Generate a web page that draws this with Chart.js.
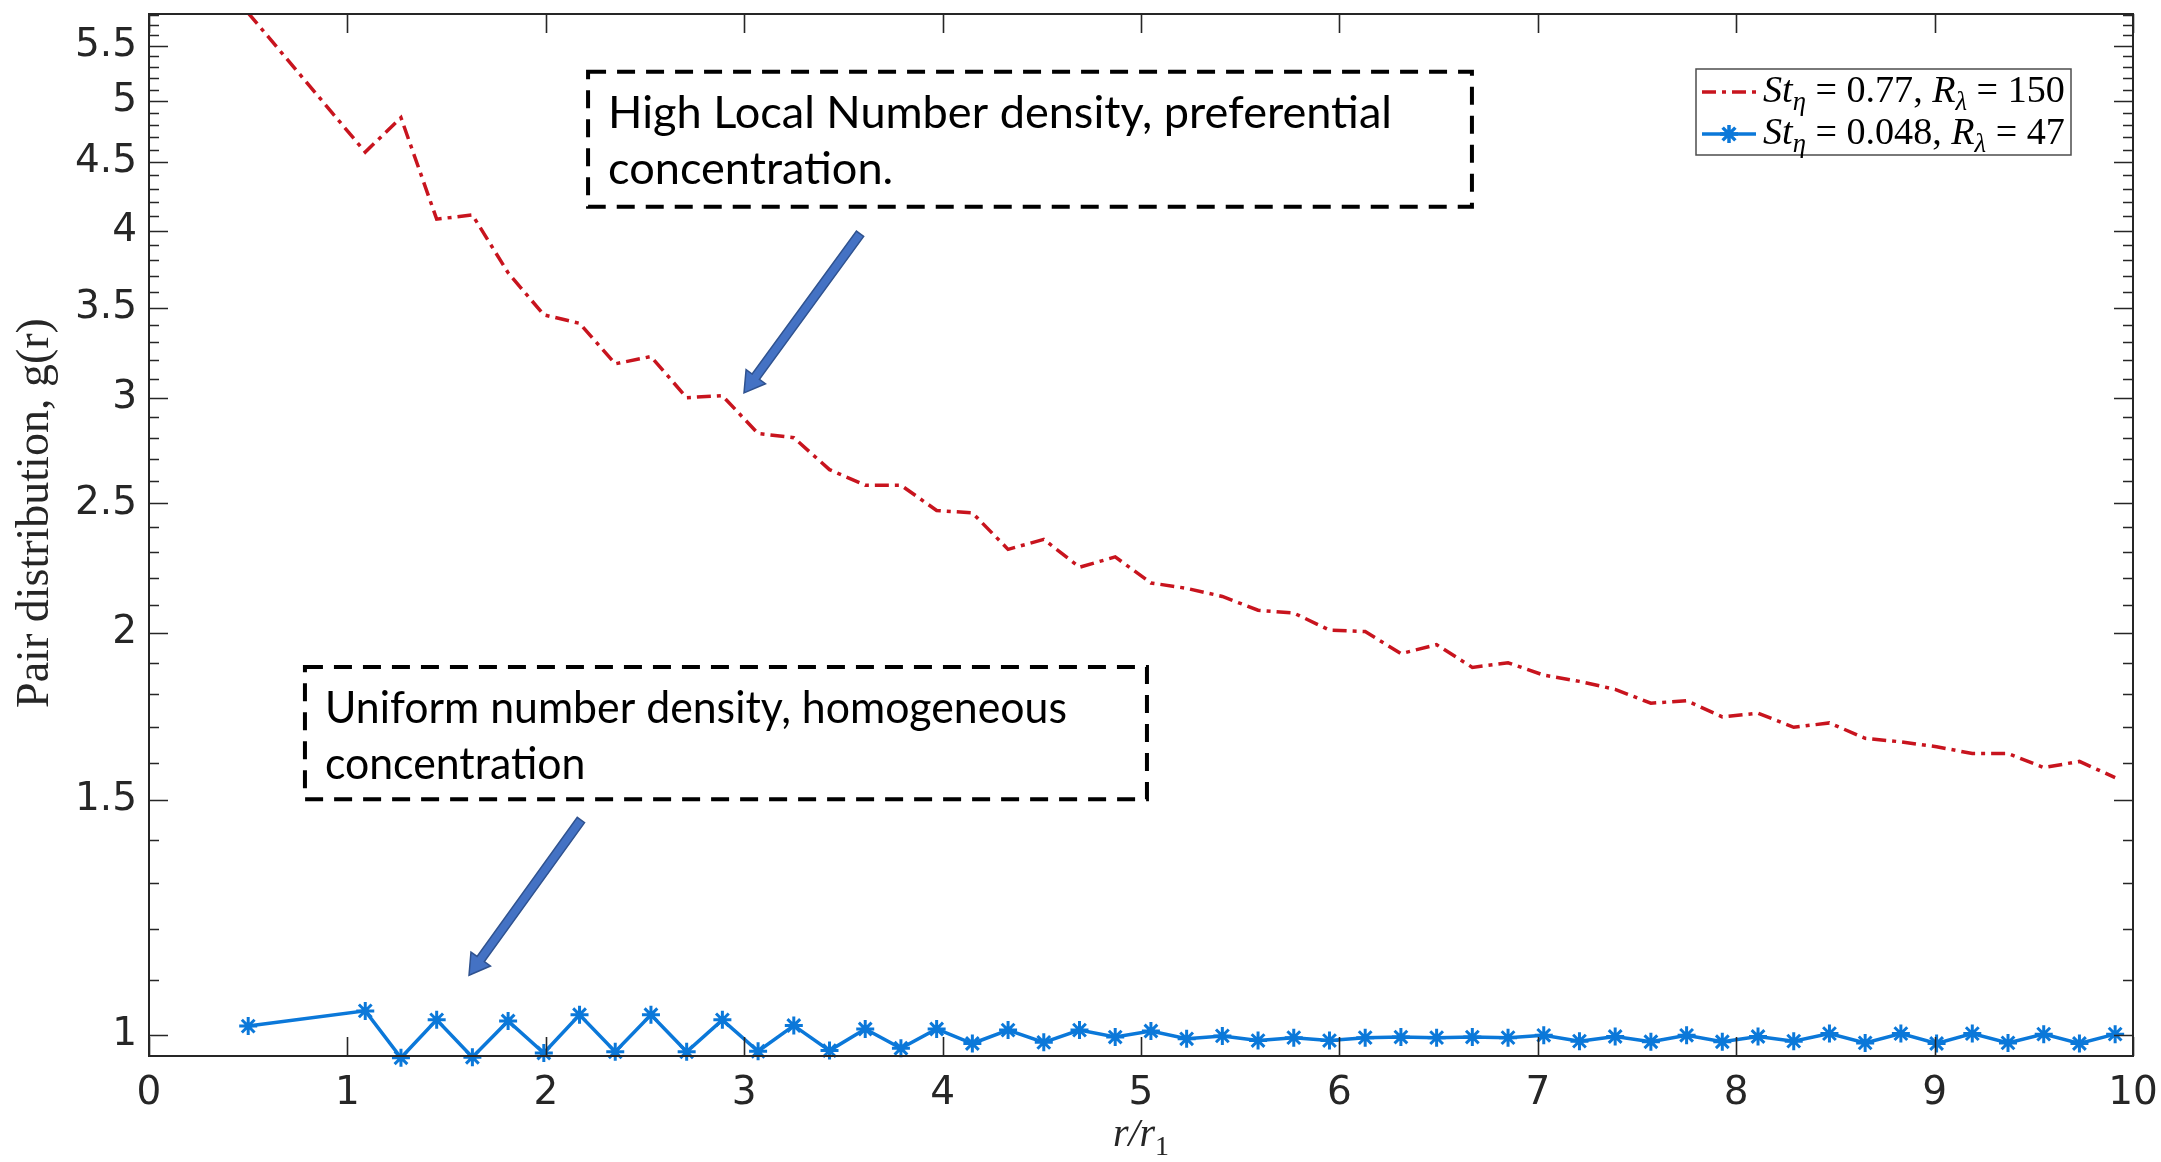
<!DOCTYPE html>
<html>
<head>
<meta charset="utf-8">
<script src="https://cdn.jsdelivr.net/npm/chart.js@4.4.1/dist/chart.umd.min.js"></script>
<style>
  html, body { margin: 0; padding: 0; background: #fff; }
  #caja { width: 2161px; height: 1162px; }
</style>
</head>
<body>
<div id="caja"><canvas id="grafica" width="2161" height="1162"></canvas></div>
<script>
// posiciones r/r1 (la primera va suelta, el resto cada 0.18)
const radios = [0.5, 1.09, 1.27, 1.45, 1.63, 1.81, 1.99, 2.17, 2.35, 2.53, 2.71,
  2.89, 3.07, 3.25, 3.43, 3.61, 3.79, 3.97, 4.15, 4.33, 4.51,
  4.69, 4.87, 5.05, 5.23, 5.41, 5.59, 5.77, 5.95, 6.13, 6.31,
  6.49, 6.67, 6.85, 7.03, 7.21, 7.39, 7.57, 7.75, 7.93, 8.11,
  8.29, 8.47, 8.65, 8.83, 9.01, 9.19, 9.37, 9.55, 9.73, 9.91];

// g(r) para St=0.77, R_lambda=150
const gAlto = [5.82, 4.58, 4.86, 4.08, 4.11, 3.72, 3.46, 3.41, 3.18, 3.22, 3.00,
  3.01, 2.82, 2.80, 2.65, 2.58, 2.58, 2.47, 2.46, 2.31, 2.35,
  2.24, 2.28, 2.18, 2.16, 2.13, 2.08, 2.07, 2.01, 2.005, 1.93,
  1.96, 1.885, 1.90, 1.86, 1.84, 1.815, 1.772, 1.78, 1.731, 1.742,
  1.70, 1.713, 1.668, 1.658, 1.644, 1.625, 1.625, 1.586, 1.603, 1.559];

// g(r) para St=0.048, R_lambda=47
const gBajo = [1.016, 1.043, 0.962, 1.027, 0.963, 1.025, 0.970, 1.036, 0.972, 1.036, 0.972,
  1.027, 0.973, 1.017, 0.974, 1.011, 0.978, 1.011, 0.986, 1.009, 0.988,
  1.009, 0.997, 1.0075, 0.994, 0.999, 0.991, 0.996, 0.991, 0.996, 0.997,
  0.996, 0.997, 0.996, 1.000, 0.990, 0.998, 0.989, 1.000, 0.989, 0.998,
  0.990, 1.003, 0.987, 1.003, 0.986, 1.003, 0.987, 1.002, 0.986, 1.002];

// etiquetas de los ejes
const ticksX = [0, 1, 2, 3, 4, 5, 6, 7, 8, 9, 10];
const ticksY = [1, 1.5, 2, 2.5, 3, 3.5, 4, 4.5, 5, 5.5];

// parametros de cada serie para la leyenda
const stokes = ['0.77', '0.048'];
const reynolds = ['150', '47'];

const ROJO = '#c8141e';
const AZUL = '#0b78d9';
const GRIS = '#262626';

Chart.defaults.font.family = 'DejaVu Sans';
Chart.defaults.font.size = 39;
Chart.defaults.color = GRIS;

// texto con cursivas y subindices (estilo LaTeX)
function medirRico(ctx, partes, size, fam) {
  let w = 0;
  for (const p of partes) {
    ctx.font = (p.it ? 'italic ' : '') + (p.sub ? size * 0.7 : size) + 'px ' + fam;
    w += ctx.measureText(p.t).width;
  }
  return w;
}
function pintarRico(ctx, partes, x, y, size, fam) {
  let cx = x;
  for (const p of partes) {
    ctx.font = (p.it ? 'italic ' : '') + (p.sub ? size * 0.7 : size) + 'px ' + fam;
    ctx.fillText(p.t, cx, y + (p.sub ? size * 0.22 : 0));
    cx += ctx.measureText(p.t).width;
  }
}
function tamanoPara(ctx, texto, fam, ancho) {
  ctx.font = '100px ' + fam;
  return 100 * ancho / ctx.measureText(texto).width;
}

function flecha(ctx, x0, y0, x1, y1) {
  const ang = Math.atan2(y1 - y0, x1 - x0);
  const largo = Math.hypot(x1 - x0, y1 - y0);
  const cuerpo = 4.5, cabeza = 12, lc = 20;
  ctx.save();
  ctx.translate(x0, y0);
  ctx.rotate(ang);
  ctx.beginPath();
  ctx.moveTo(0, -cuerpo);
  ctx.lineTo(largo - lc, -cuerpo);
  ctx.lineTo(largo - lc, -cabeza);
  ctx.lineTo(largo, 0);
  ctx.lineTo(largo - lc, cabeza);
  ctx.lineTo(largo - lc, cuerpo);
  ctx.lineTo(0, cuerpo);
  ctx.closePath();
  ctx.fillStyle = '#4472c4';
  ctx.fill();
  ctx.strokeStyle = '#2f528f';
  ctx.lineWidth = 1.5;
  ctx.stroke();
  ctx.restore();
}

// cuadros de texto y flechas, en coordenadas de los datos
const notas = [
  { lineas: ['High Local Number density, preferential', 'concentration.'],
    x0: 2.213, x1: 6.668, yArriba: 5.26, yAbajo: 4.169,
    desde: [3.584, 3.979], hasta: [2.999, 3.025] },
  { lineas: ['Uniform number density, homogeneous', 'concentration'],
    x0: 0.786, x1: 5.03, yArriba: 1.886, yAbajo: 1.502,
    desde: [2.177, 1.449], hasta: [1.613, 1.109] }
];

const decorado = {
  id: 'decorado',
  afterDraw(chart) {
    const ctx = chart.ctx;
    const a = chart.chartArea;
    const sx = chart.scales.x, sy = chart.scales.y;
    ctx.save();

    // marco y marcas hacia dentro
    ctx.strokeStyle = GRIS;
    ctx.lineWidth = 2;
    ctx.strokeRect(a.left, a.top, a.right - a.left, a.bottom - a.top);
    ctx.lineWidth = 1.6;
    ctx.beginPath();
    for (const v of ticksX) {
      const px = Math.round(sx.getPixelForValue(v)) + 0.5;
      ctx.moveTo(px, a.bottom); ctx.lineTo(px, a.bottom - 19);
      ctx.moveTo(px, a.top); ctx.lineTo(px, a.top + 19);
    }
    for (let k = 10; k <= 58; k++) {
      const v = k / 10;
      const l = ticksY.includes(v) ? 19 : 10;
      const py = Math.round(sy.getPixelForValue(v)) + 0.5;
      ctx.moveTo(a.left, py); ctx.lineTo(a.left + l, py);
      ctx.moveTo(a.right, py); ctx.lineTo(a.right - l, py);
    }
    ctx.stroke();

    // cuadros punteados con texto (letra estrecha, tipo Calibri)
    for (const n of notas) {
      const L = sx.getPixelForValue(n.x0), R = sx.getPixelForValue(n.x1);
      const T = sy.getPixelForValue(n.yArriba), B = sy.getPixelForValue(n.yAbajo);
      ctx.setLineDash([18, 11]);
      ctx.lineWidth = 4;
      ctx.strokeStyle = '#000';
      ctx.strokeRect(L, T, R - L, B - T);
      ctx.setLineDash([]);
      ctx.font = '44px Lato';
      const escala = (R - L - 100) / ctx.measureText(n.lineas[0]).width;
      ctx.fillStyle = '#000';
      ctx.textAlign = 'left';
      ctx.textBaseline = 'alphabetic';
      n.lineas.forEach((t, i) => {
        ctx.save();
        ctx.translate(L + 20, T + 56 + i * 56);
        ctx.scale(escala, 1);
        ctx.fillText(t, 0, 0);
        ctx.restore();
      });
      flecha(ctx, sx.getPixelForValue(n.desde[0]), sy.getPixelForValue(n.desde[1]),
        sx.getPixelForValue(n.hasta[0]), sy.getPixelForValue(n.hasta[1]));
    }

    // leyenda
    const lx = a.right - 437, ly = a.top + 55, lw = 375, lh = 86;
    ctx.fillStyle = '#fff';
    ctx.fillRect(lx, ly, lw, lh);
    ctx.strokeStyle = '#4d4d4d';
    ctx.lineWidth = 1.5;
    ctx.strokeRect(lx, ly, lw, lh);
    const filas = stokes.map((s, i) => [
      { t: 'St', it: true }, { t: 'η', it: true, sub: true },
      { t: ' = ' + s + ', ' }, { t: 'R', it: true },
      { t: 'λ', it: true, sub: true }, { t: ' = ' + reynolds[i] }
    ]);
    const fam = '"Liberation Serif"';
    const fz = 30 * 302 / medirRico(ctx, filas[0], 30, fam);
    const yFila = [ly + 23, ly + 65];
    // muestra roja
    ctx.strokeStyle = ROJO;
    ctx.lineWidth = 3.5;
    ctx.setLineDash([14, 6, 4, 6]);
    ctx.beginPath(); ctx.moveTo(lx + 6, yFila[0]); ctx.lineTo(lx + 60, yFila[0]); ctx.stroke();
    ctx.setLineDash([]);
    // muestra azul
    ctx.strokeStyle = AZUL;
    ctx.beginPath(); ctx.moveTo(lx + 6, yFila[1]); ctx.lineTo(lx + 60, yFila[1]); ctx.stroke();
    ctx.fillStyle = AZUL;
    Chart.helpers.drawPoint(ctx, { pointStyle: 'star', radius: 9, borderWidth: 3, rotation: 0 }, lx + 33, yFila[1]);
    ctx.fillStyle = '#000';
    ctx.textAlign = 'left';
    ctx.textBaseline = 'alphabetic';
    filas.forEach((f, i) => pintarRico(ctx, f, lx + 67, yFila[i] + 10, fz, fam));

    // titulo del eje y
    const ty = 'Pair distribution, g(r)';
    const fy = tamanoPara(ctx, ty, fam, 390);
    ctx.save();
    ctx.translate(48, (a.top + a.bottom) / 2 - 22);
    ctx.rotate(-Math.PI / 2);
    ctx.font = fy + 'px ' + fam;
    ctx.fillStyle = GRIS;
    ctx.textAlign = 'center';
    ctx.fillText(ty, 0, 0);
    ctx.restore();

    // titulo del eje x
    const tx = [{ t: 'r/r', it: true }, { t: '1', sub: true }];
    ctx.fillStyle = GRIS;
    const wx = medirRico(ctx, tx, 40, fam);
    pintarRico(ctx, tx, (a.left + a.right) / 2 - wx / 2, 1146, 40, fam);

    ctx.restore();
  }
};

const puntos = ys => radios.map((r, i) => ({ x: r, y: ys[i] }));

new Chart(document.getElementById('grafica'), {
  type: 'line',
  data: {
    datasets: [{
      label: 'St=0.77, R=150',
      data: puntos(gAlto),
      borderColor: ROJO,
      borderWidth: 3.5,
      borderDash: [14, 6, 4, 6],
      pointRadius: 0,
      tension: 0,
      fill: false
    }, {
      label: 'St=0.048, R=47',
      data: puntos(gBajo),
      borderColor: AZUL,
      backgroundColor: AZUL,
      borderWidth: 3.5,
      pointStyle: 'star',
      pointRadius: 9,
      pointBorderWidth: 3,
      pointBorderColor: AZUL,
      tension: 0,
      fill: false,
      clip: false
    }]
  },
  options: {
    responsive: false,
    animation: false,
    layout: { padding: { top: 14, right: 28, left: 0, bottom: 0 } },
    plugins: { legend: { display: false }, tooltip: { enabled: false } },
    scales: {
      x: {
        type: 'linear', min: 0, max: 10,
        grid: { display: false, drawTicks: false },
        border: { display: false },
        afterBuildTicks: s => { s.ticks = ticksX.map(v => ({ value: v })); },
        ticks: { padding: 14, maxRotation: 0, color: GRIS, callback: v => String(v) },
        afterFit: s => { s.height = 106; s.paddingLeft = 0; s.paddingRight = 0; }
      },
      y: {
        type: 'logarithmic', min: 0.965, max: 5.81,
        grid: { display: false, drawTicks: false },
        border: { display: false },
        afterBuildTicks: s => { s.ticks = ticksY.map(v => ({ value: v })); },
        ticks: { padding: 12, color: GRIS, callback: v => String(v) },
        afterFit: s => { s.width = 149; s.paddingTop = 0; s.paddingBottom = 0; }
      }
    }
  },
  plugins: [decorado]
});
</script>
</body>
</html>
